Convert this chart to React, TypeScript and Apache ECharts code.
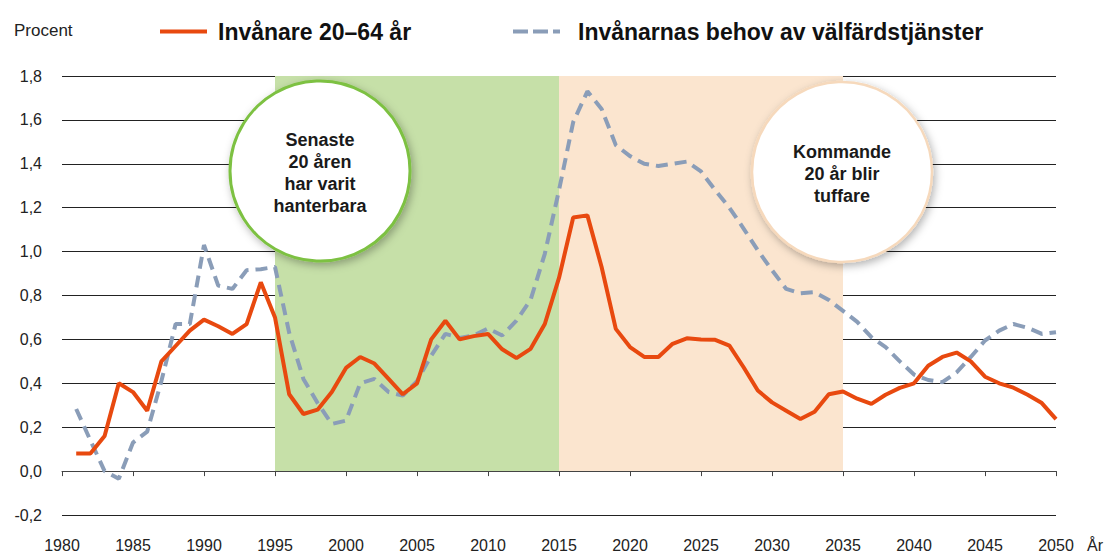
import React, { useEffect, useRef } from 'react';
import * as echarts from 'echarts';

const startYear = 1981;

const invanare2064 = [
  0.08, 0.08, 0.16, 0.40, 0.36, 0.275, 0.50, 0.57, 0.64, 0.69,
  0.66, 0.625, 0.67, 0.86, 0.70, 0.35, 0.26, 0.28, 0.36, 0.47,
  0.52, 0.49, 0.42, 0.35, 0.40, 0.60, 0.685, 0.60, 0.615, 0.625,
  0.555, 0.515, 0.557, 0.67, 0.88, 1.155, 1.165, 0.93, 0.648, 0.565,
  0.52, 0.52, 0.58, 0.605, 0.60, 0.598, 0.572, 0.473, 0.367, 0.313,
  0.275, 0.237, 0.27, 0.35, 0.363, 0.33, 0.306, 0.348, 0.379, 0.40,
  0.48, 0.52, 0.54, 0.50, 0.43, 0.40, 0.38, 0.348, 0.31, 0.237,
];

const behovValfard = [
  0.283, 0.14, 0.0, -0.035, 0.13, 0.18, 0.41, 0.67, 0.67, 1.03,
  0.845, 0.83, 0.915, 0.92, 0.93, 0.63, 0.42, 0.31, 0.215, 0.23,
  0.40, 0.42, 0.36, 0.344, 0.41, 0.526, 0.625, 0.607, 0.618, 0.65,
  0.618, 0.686, 0.78, 0.99, 1.28, 1.59, 1.73, 1.65, 1.485, 1.435,
  1.40, 1.39, 1.40, 1.41, 1.365, 1.28, 1.20, 1.105, 1.006, 0.915,
  0.83, 0.81, 0.815, 0.78, 0.73, 0.68, 0.61, 0.565, 0.50, 0.44,
  0.415, 0.405, 0.45, 0.52, 0.595, 0.64, 0.67, 0.653, 0.625, 0.633,
];

const seriesNames = ['Invånare 20–64 år', 'Invånarnas behov av välfärdstjänster'];
const periods: [number, number][] = [[1995, 2015], [2015, 2035]];
const periodTexts = ['Senaste\n20 åren\nhar varit\nhanterbara', 'Kommande\n20 år blir\ntuffare'];
const yAxisTitle = 'Procent';
const xAxisTitle = 'År';

const FONT = '"Liberation Sans", Arial, Helvetica, sans-serif';
const ORANGE = '#E8490F';
const BLUEGREY = '#8A9DB8';
const AREA_COLORS = ['#C6E0A8', '#FBE5CF'];

export default function App() {
  const ref = useRef<HTMLDivElement>(null);

  useEffect(() => {
    if (!ref.current) return;
    const chart = echarts.init(ref.current, undefined, { renderer: 'svg' });
    const toPairs = (arr: number[]) => arr.map((v, i) => [startYear + i, v]);

    const option: any = {
      animation: false,
      textStyle: { fontFamily: FONT },
      grid: { left: 62, right: 54, top: 76, bottom: 37, containLabel: false, outerBoundsMode: 'none' },
      legend: [
        {
          data: [seriesNames[0]],
          left: 153,
          top: 15,
          itemWidth: 47,
          itemHeight: 14,
          selectedMode: false,
          itemStyle: { opacity: 0 },
          lineStyle: { width: 4 },
          textStyle: { fontSize: 23, fontWeight: 'bold', color: '#111', fontFamily: FONT, padding: [0, 0, 0, 6] },
        },
        {
          data: [seriesNames[1]],
          left: 506,
          top: 15,
          itemWidth: 47,
          itemHeight: 14,
          selectedMode: false,
          itemStyle: { opacity: 0 },
          lineStyle: { width: 4, type: [15, 5] },
          textStyle: { fontSize: 23, fontWeight: 'bold', color: '#111', fontFamily: FONT, padding: [0, 0, 0, 13] },
        },
      ],
      xAxis: [
        {
          // bottom axis: tick labels only
          type: 'value',
          position: 'bottom',
          min: 1980,
          max: 2050,
          interval: 5,
          z: 1,
          axisLine: { show: false, onZero: false },
          axisTick: { show: false },
          axisLabel: {
            margin: 22, fontSize: 16, color: '#222', fontFamily: FONT,
            formatter: (v: number) => String(v),
          },
          splitLine: { show: false },
        },
        {
          // axis line with ticks at value 0
          type: 'value',
          position: 'top',
          min: 1980,
          max: 2050,
          interval: 5,
          z: 1,
          axisLine: { show: true, onZero: true, lineStyle: { color: '#444', width: 1 } },
          axisTick: { show: true, inside: true, length: 5, lineStyle: { color: '#444' } },
          axisLabel: { show: false },
          splitLine: { show: false },
        },
      ],
      yAxis: {
        type: 'value',
        min: -0.2,
        max: 1.8,
        interval: 0.2,
        z: 1,
        axisLine: { show: false },
        axisTick: { show: false },
        axisLabel: {
          margin: 20,
          fontSize: 16,
          color: '#222',
          fontFamily: FONT,
          formatter: (v: number) => v.toFixed(1).replace('.', ','),
        },
        splitLine: { lineStyle: { color: '#222', width: 1 } },
      },
      series: [
        {
          type: 'line',
          name: '_periods',
          data: [],
          z: 0,
          silent: true,
          markArea: {
            silent: true,
            data: periods.map(([a, b], i) => [
              { xAxis: a, yAxis: 0, itemStyle: { color: AREA_COLORS[i], opacity: 1 } },
              { xAxis: b, yAxis: 1.8 },
            ]),
          },
        },
        {
          type: 'line',
          name: seriesNames[1],
          data: toPairs(behovValfard),
          symbol: 'none',
          z: 2,
          lineStyle: { color: BLUEGREY, width: 4, type: [12, 7] },
          itemStyle: { color: BLUEGREY },
        },
        {
          type: 'line',
          name: seriesNames[0],
          data: toPairs(invanare2064),
          symbol: 'none',
          z: 3,
          lineStyle: { color: ORANGE, width: 4 },
          itemStyle: { color: ORANGE },
        },
      ],
      graphic: [
        {
          type: 'text',
          left: 14,
          top: 22,
          style: { text: yAxisTitle, fontSize: 17, fontFamily: FONT, fill: '#222' },
        },
        {
          type: 'text',
          x: 1087,
          y: 545,
          style: { text: xAxisTitle, fontSize: 16, fontFamily: FONT, fill: '#222', align: 'left', verticalAlign: 'middle' },
        },
        {
          type: 'circle',
          shape: { cx: 320, cy: 171, r: 90 },
          style: {
            fill: '#fff', stroke: '#7DC142', lineWidth: 3,
            shadowBlur: 8, shadowColor: 'rgba(0,0,0,0.3)', shadowOffsetX: 2, shadowOffsetY: 3,
          },
          z: 100,
        },
        {
          type: 'text',
          x: 320,
          y: 173,
          style: {
            text: periodTexts[0], align: 'center', verticalAlign: 'middle',
            fontSize: 18, fontWeight: 'bold', lineHeight: 22, fontFamily: FONT, fill: '#1a1a1a',
          },
          z: 101,
        },
        {
          type: 'circle',
          shape: { cx: 842, cy: 172, r: 90 },
          style: {
            fill: '#fff', stroke: '#F6D9BC', lineWidth: 2.5,
            shadowBlur: 8, shadowColor: 'rgba(0,0,0,0.3)', shadowOffsetX: 2, shadowOffsetY: 3,
          },
          z: 100,
        },
        {
          type: 'text',
          x: 842,
          y: 174,
          style: {
            text: periodTexts[1], align: 'center', verticalAlign: 'middle',
            fontSize: 18, fontWeight: 'bold', lineHeight: 22, fontFamily: FONT, fill: '#1a1a1a',
          },
          z: 101,
        },
      ],
    };

    chart.setOption(option);
    return () => chart.dispose();
  }, []);

  return (
    <div
      ref={ref}
      style={{ position: 'fixed', left: 0, top: 0, width: 1110, height: 552, background: '#fff' }}
    />
  );
}
